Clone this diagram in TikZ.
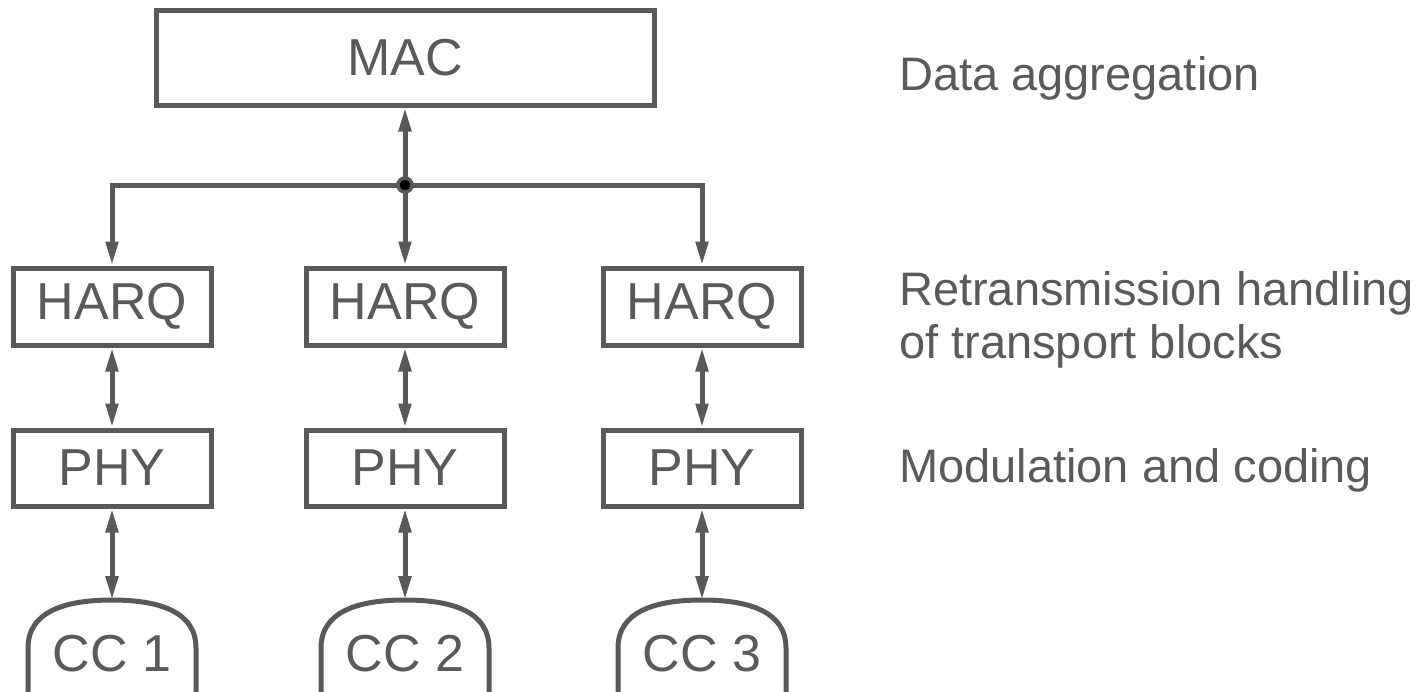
\documentclass[tikz,border=0pt]{standalone}
\usepackage{fontspec}
\setmainfont{Liberation Sans}
\usetikzlibrary{arrows.meta}
\definecolor{ln}{HTML}{595959}
\definecolor{tx}{HTML}{5A5A5A}
\begin{document}
\begin{tikzpicture}[x=1pt,y=-1pt,
  box/.style={draw=ln, line width=5pt, text=tx, font=\fontsize{52}{62}\selectfont, inner sep=0pt},
  lbl/.style={text=tx, font=\fontsize{52}{62}\selectfont, inner sep=0pt},
  side/.style={text=tx, font=\fontsize{47}{53}\selectfont, inner sep=0pt, anchor=base west},
  conn/.style={draw=ln, line width=5pt},
  >={Triangle[length=24pt,width=12pt]}]
\useasboundingbox (0,0) rectangle (1424,691);
\node[box, minimum width=498pt, minimum height=95pt] (mac) at (405,57.5) {MAC};
\foreach \i/\x in {1/112,2/405,3/702}{
  \node[box, minimum width=198pt, minimum height=77pt] (harq\i) at (\x,306.5) {HARQ};
  \node[box, minimum width=198pt, minimum height=76pt] (phy\i) at (\x,468) {PHY};
  \node[lbl] (cc\i) at (\x,654) {CC \i};
  \coordinate (cctop\i) at (\x,600);
  \draw[conn] (\x-84,700) -- (\x-84,648) .. controls (\x-84,612) and (\x-48,600) .. (cctop\i)
     .. controls (\x+48,600) and (\x+84,612) .. (\x+84,648) -- (\x+84,700);
  \draw[conn,<->] (harq\i.south) -- (phy\i.north);
  \draw[conn,<->] (phy\i.south) -- (cctop\i);
}
\coordinate (j) at (405,185);
\draw[conn,<->] (harq1.north) |- (j) -| (harq3.north);
\draw[conn,->] (j) -- (mac.south);
\draw[conn,->] (j) -- (harq2.north);
\node[circle, fill=black, draw=ln, line width=3.5pt, minimum size=14pt, inner sep=0pt] (dot) at (j) {};
\node[side] (t1) at (899,90) {Data aggregation};
\node[side] (t2) at (899,305) {Retransmission handling};
\node[side] (t3) at (899,358) {of transport blocks};
\node[side] (t4) at (899,482) {Modulation and coding};
\end{tikzpicture}
\end{document}
